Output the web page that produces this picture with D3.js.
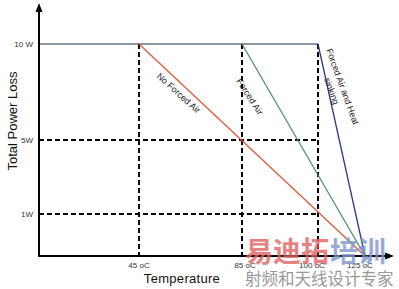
<!DOCTYPE html>
<html><head><meta charset="utf-8">
<script src="https://cdn.jsdelivr.net/npm/d3@7"></script>
<style>body{margin:0;background:#fff}svg{display:block}</style>
</head><body>
<svg id="c" width="399" height="289"></svg>
<script>
// data
const tempTicks = [45, 85, 100, 125];
const tempLabels = ["45 oC", "85 oC", "100 oC", "125 oC"];
const powerTicks = [10, 5, 1];
const powerLabels = ["10 W", "5W", "1W"];
const seriesNames = ["No Forced Air", "Forced Air", "Forced Air and Heat sinking"];
const derateStart = [45, 85, 100];   // temperature where derating starts (at 10 W)
const derateEnd = [125, 125, 125];   // temperature where power reaches 0 W
const maxPower = 10;
const seriesColors = ["#e0583f", "#4f8f73", "#2b3a85"];

const svg = d3.select("#c");
const x = d3.scaleLinear().domain([0, 45, 85, 100, 125]).range([39, 139, 242, 318, 365]);
const y = d3.scaleLinear().domain([0, 1, 5, 10]).range([256, 214, 140, 44]);

// flat 10W line
svg.append("line").attr("x1", x(0)).attr("x2", x(100)).attr("y1", y(maxPower)).attr("y2", y(maxPower))
  .attr("stroke", "#8a98a4").attr("stroke-width", 2);

// dashed grid
const dash = "5,3";
[45, 85, 100].forEach(t => {
  svg.append("line").attr("x1", x(t)).attr("x2", x(t)).attr("y1", y(maxPower)).attr("y2", y(0))
    .attr("stroke", "#000").attr("stroke-width", 2).attr("stroke-dasharray", dash);
});
[5, 1].forEach(p => {
  svg.append("line").attr("x1", x(0)).attr("x2", x(100)).attr("y1", y(p)).attr("y2", y(p))
    .attr("stroke", "#000").attr("stroke-width", 2).attr("stroke-dasharray", dash);
});

// derating lines
const line = d3.line().x(d => x(d[0])).y(d => y(d[1]));
derateStart.forEach((s, i) => {
  svg.append("path").attr("d", line([[s, maxPower], [derateEnd[i], 0]]))
    .attr("fill", "none").attr("stroke", seriesColors[i]).attr("stroke-width", 1.3);
});

// axes
svg.append("line").attr("x1", x(0)).attr("x2", x(0)).attr("y1", y(0) + 1).attr("y2", 10)
  .attr("stroke", "#000").attr("stroke-width", 2);
svg.append("path").attr("d", `M${x(0)-3.5},12 L${x(0)},3 L${x(0)+3.5},12 Z`).attr("fill", "#000");
svg.append("line").attr("x1", x(0) - 1).attr("x2", 386).attr("y1", y(0)).attr("y2", y(0))
  .attr("stroke", "#000").attr("stroke-width", 2);
svg.append("path").attr("d", `M385,${y(0)-3.5} L394,${y(0)} L385,${y(0)+3.5} Z`).attr("fill", "#000");

// tick labels
const font = "Liberation Sans, Arial, sans-serif";
powerTicks.forEach((p, i) => {
  svg.append("text").attr("x", 33).attr("y", y(p) + 3).attr("text-anchor", "end")
    .attr("font-family", font).attr("font-size", 8).attr("fill", "#333").text(powerLabels[i]);
});
const tickShift = [0, 3, -6, -5];
tempTicks.forEach((t, i) => {
  svg.append("text").attr("x", x(t) + tickShift[i]).attr("y", 268).attr("text-anchor", "middle")
    .attr("font-family", font).attr("font-size", 8).attr("fill", "#333").text(tempLabels[i]);
});

// axis titles
svg.append("text").attr("transform", "translate(17,121) rotate(-90)").attr("text-anchor", "middle")
  .attr("font-family", font).attr("font-size", 13).attr("fill", "#111").text("Total Power Loss");
svg.append("text").attr("x", 182).attr("y", 283).attr("text-anchor", "middle")
  .attr("font-family", font).attr("font-size", 13).attr("letter-spacing", 0.3).attr("fill", "#111").text("Temperature");

// series labels
function rotLabel(txt, px, py, ang) {
  svg.append("text").attr("transform", `translate(${px},${py}) rotate(${ang})`)
    .attr("font-family", font).attr("font-size", 9).attr("fill", "#222").text(txt);
}
rotLabel(seriesNames[0], 156, 77, 42);
rotLabel(seriesNames[1], 236, 81, 57);
rotLabel("Forced Air and Heat", 326, 50, 70);
rotLabel("sinking", 324, 79, 70);

// watermark
svg.append("text").attr("x", 245).attr("y", 262).attr("font-family", "Noto Sans CJK SC").attr("font-weight", "bold")
  .attr("font-size", 28).attr("fill", "#e06464").attr("opacity", 0.8).text("易迪拓");
svg.append("text").attr("x", 330).attr("y", 262).attr("font-family", "Noto Sans CJK SC").attr("font-weight", "bold")
  .attr("font-size", 28).attr("fill", "#8096cc").attr("opacity", 0.8).text("培训");
svg.append("text").attr("x", 245).attr("y", 285).attr("font-family", "Noto Sans CJK SC")
  .attr("font-size", 16.5).attr("fill", "#999").text("射频和天线设计专家");
</script>
</body></html>
